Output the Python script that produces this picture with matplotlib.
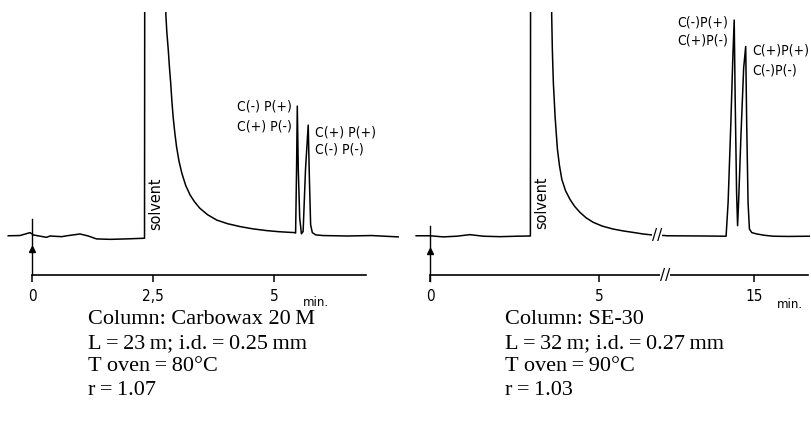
import numpy as np
import matplotlib
matplotlib.use("Agg")
import matplotlib.pyplot as plt
from matplotlib.ticker import FixedLocator, FixedFormatter

# --- chromatogram 1: Carbowax 20 M (time in min, detector signal, full scale = 100)
t_left = [-0.49, -0.25, -0.04, 0.03, 0.30, 0.37, 0.61, 0.72, 0.99, 1.16, 1.33, 1.61, 1.95, 2.32,
          2.335, 2.72,
          2.76, 2.78, 2.81, 2.835, 2.86, 2.885, 2.91, 2.945, 2.98, 3.03, 3.09, 3.17, 3.26,
          3.35, 3.46, 3.62, 3.81, 4.03, 4.29, 4.55, 4.84, 5.1, 5.42,
          5.435, 5.455, 5.47, 5.49, 5.52, 5.555, 5.59, 5.64, 5.695, 5.72, 5.745, 5.78,
          5.85, 6.0, 6.5, 7.0, 7.55]
s_left = [0.1, 0.2, 1.5, 0.45, -0.6, 0.0, -0.3, 0.1, 0.9, 0.0, -1.3, -1.5, -1.3, -1.0,
          400, 400,
          98.7, 91, 83.0, 75, 68.2, 60, 53.2, 46, 39.9, 33.5, 28.0, 22.5, 18.3,
          15.3, 12.4, 9.5, 7.1, 5.5, 4.2, 3.2, 2.4, 1.9, 1.5,
          1.3, 30, 58, 30, 8, 1.0, 2, 30, 49.5, 25, 5, 1.5,
          0.5, 0.2, 0.0, 0.2, -0.4]
ticks_left = [0, 2.5, 5]
ticklabels_left = ["0", "2,5", "5"]

# --- chromatogram 2: SE-30 (time axis broken between 7 and 12.4 min)
t_right = [-0.41, 0.0, 0.39, 0.79, 1.18, 1.58, 2.07, 2.57, 2.97,
           2.99, 3.56,
           3.60, 3.61, 3.62, 3.635, 3.65, 3.675, 3.70, 3.735, 3.77, 3.83, 3.90, 4.01, 4.14,
           4.28, 4.44, 4.62, 4.83, 5.1, 5.42, 5.7, 6.01, 6.3, 6.61, 6.95,
           12.4, 13.5, 14.16,
           14.22, 14.30, 14.36, 14.40, 14.43, 14.47, 14.50,
           14.53, 14.60, 14.68, 14.74, 14.77, 14.81, 14.85, 14.92, 15.07, 15.3, 15.56,
           16.0, 16.62]
s_right = [0.1, 0.1, -0.4, -0.1, 0.6, -0.1, -0.3, -0.1, 0.0,
           400, 400,
           98.7, 91, 83.1, 75.5, 68.3, 61, 53.5, 46, 38.7, 31.5, 25.3, 20.2, 16.4,
           13.2, 10.5, 8.1, 6.1, 4.4, 3.1, 2.3, 1.6, 0.9, 0.4, 0.2,
           0.1, 0.0, -0.1,
           15, 50, 80, 96.4, 60, 20, 4.6,
           15, 45, 75, 84.6, 50, 15, 3.1, 1.5, 0.9, 0.3, -0.1,
           -0.2, -0.1]
ticks_right = [0, 5, 15]
ticklabels_right = ["0", "5", "15"]
BREAK0, BREAK1 = 7.0, 12.4

TS = "\u2009"  # thin space, as in the typeset captions
captions_left = [f"Column: Carbowax 20{TS}M", f"L{TS}={TS}23{TS}m; i.d.{TS}={TS}0.25{TS}mm",
                 f"T oven{TS}={TS}80°C", f"r{TS}={TS}1.07"]
captions_right = ["Column: SE-30", f"L{TS}={TS}32{TS}m; i.d.{TS}={TS}0.27{TS}mm",
                  f"T oven{TS}={TS}90°C", f"r{TS}={TS}1.03"]

GAP = BREAK1 - BREAK0


def fwd(t):
    t = np.asarray(t, dtype=float)
    return np.where(t <= BREAK0, t, np.where(t >= BREAK1, t - GAP, BREAK0))


def inv(d):
    d = np.asarray(d, dtype=float)
    return np.where(d <= BREAK0, d, d + GAP)


W, H = 811, 426
fig = plt.figure(figsize=(W / 100, H / 100), dpi=100)
YLIM = (-33.04, 100)
AXIS_Y = -17.5
lab_font = dict(family="DejaVu Sans", fontstretch="condensed", fontsize=10)
solv_font = dict(family="DejaVu Sans", fontstretch="condensed", fontsize=11.5)
tick_font = dict(family="DejaVu Sans", fontstretch="condensed", size=11)


def setup(ax, ticks, labels, bounds):
    ax.set_ylim(*YLIM)
    for side in ["top", "right", "left"]:
        ax.spines[side].set_visible(False)
    ax.spines["bottom"].set_position(("data", AXIS_Y))
    ax.spines["bottom"].set_bounds(*bounds)
    ax.spines["bottom"].set_linewidth(1.2)
    ax.yaxis.set_visible(False)
    ax.xaxis.set_major_locator(FixedLocator(ticks))
    ax.xaxis.set_major_formatter(FixedFormatter(labels))
    ax.xaxis.set_minor_locator(FixedLocator([]))
    ax.tick_params(axis="x", direction="out", length=5, width=1.1, pad=5)
    for lab in ax.get_xticklabels():
        lab.set_fontfamily(tick_font["family"])
        lab.set_fontstretch(tick_font["fontstretch"])
        lab.set_fontsize(tick_font["size"])
    ax.patch.set_alpha(0)


# left panel
ax1 = fig.add_axes([0, (H - 310) / H, 405 / W, 298 / H])
ax1.set_xlim(-32 / 48.5, (405 - 32) / 48.5)
ax1.plot(t_left, s_left, color="black", lw=1.1)
setup(ax1, ticks_left, ticklabels_left, (0, 6.89))
ax1.plot([0, 0], [AXIS_Y, 7.6], color="black", lw=1.0)
ax1.plot([0], [-6], marker="^", color="black", ms=5)
ax1.text(2.54, 2.7, "solvent", rotation=90, ha="center", va="bottom", **solv_font)
ax1.text(5.36, 57.6, "C(-) P(+)", ha="right", va="center", **lab_font)
ax1.text(5.36, 49.1, "C(+) P(-)", ha="right", va="center", **lab_font)
ax1.text(5.84, 46.4, "C(+) P(+)", ha="left", va="center", **lab_font)
ax1.text(5.84, 38.4, "C(-) P(-)", ha="left", va="center", **lab_font)

# right panel with broken time axis
ax2 = fig.add_axes([405 / W, (H - 310) / H, 406 / W, 298 / H])
ax2.set_xscale("function", functions=(fwd, inv))
ax2.set_xlim(-25 / 33.8, 381 / 33.8 + GAP)
ax2.plot(t_right, s_right, color="black", lw=1.1)
setup(ax2, ticks_right, ticklabels_right, (0, 16.58))
ax2.plot([0, 0], [-20, 4.5], color="black", lw=1.0)
ax2.plot([0], [-6.5], marker="^", color="black", ms=5)
ax2.text(3.31, 3.1, "solvent", rotation=90, ha="center", va="bottom", **solv_font)
ax2.text(14.22, 95.3, "C(-)P(+)", ha="right", va="center", **lab_font)
ax2.text(14.22, 87.1, "C(+)P(-)", ha="right", va="center", **lab_font)
ax2.text(14.93, 82.7, "C(+)P(+)", ha="left", va="center", **lab_font)
ax2.text(14.93, 73.8, "C(-)P(-)", ha="left", va="center", **lab_font)
for xb, yb in [(6.72, 0.4), (6.95, AXIS_Y)]:
    ax2.text(xb, yb, "//", ha="center", va="center", family="DejaVu Sans", fontsize=11,
             bbox=dict(facecolor="white", edgecolor="none", pad=0))

# axis unit labels
fig.text(303 / W, 1 - 302 / H, "min.", fontsize=8.5, va="center", family="DejaVu Sans")
fig.text(777 / W, 1 - 304 / H, "min.", fontsize=8.5, va="center", family="DejaVu Sans")

# column conditions
for i, (a, b) in enumerate(zip(captions_left, captions_right)):
    y = 1 - (320 + 23.4 * i) / H
    fig.text(88 / W, y, a, family=["Liberation Serif", "DejaVu Serif"], fontsize=16, va="center")
    fig.text(505 / W, y, b, family=["Liberation Serif", "DejaVu Serif"], fontsize=16, va="center")

fig.savefig("out.png", dpi=100)
